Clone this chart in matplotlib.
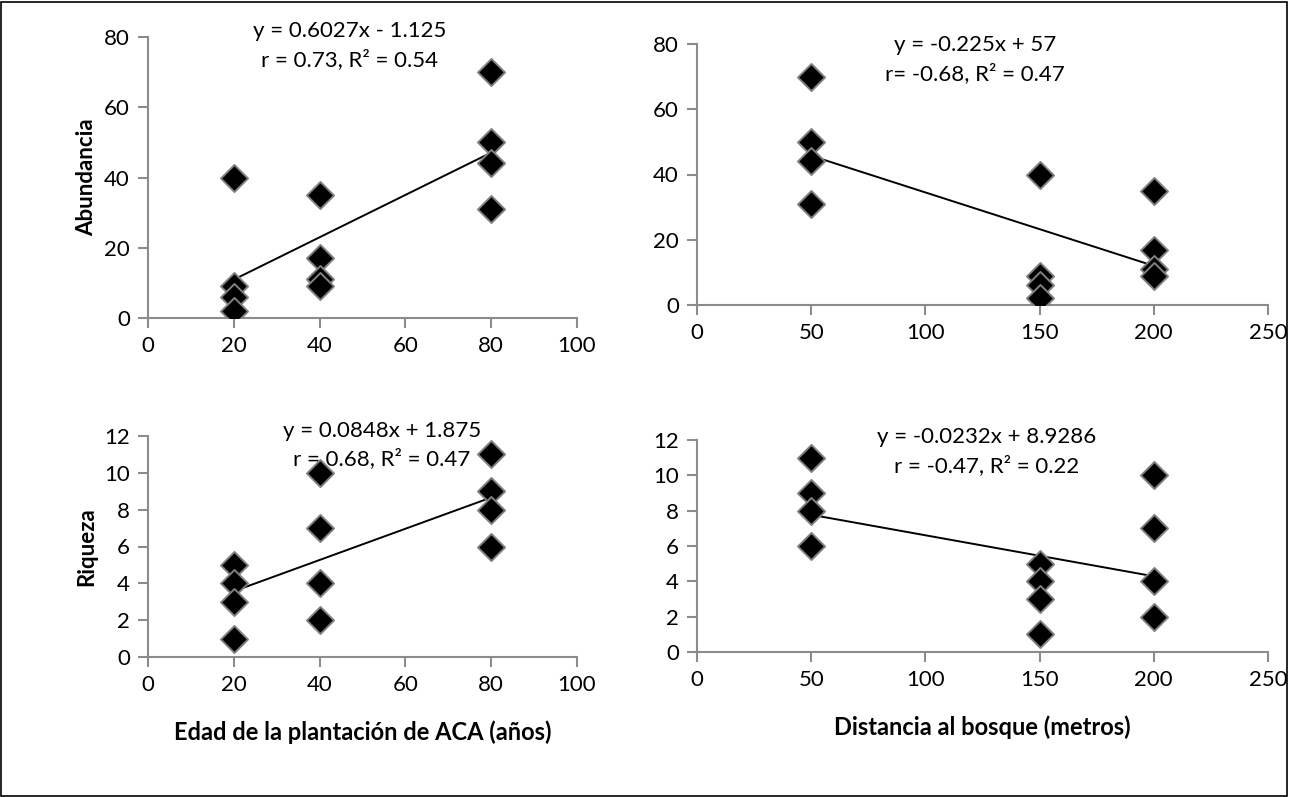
import numpy as np
import matplotlib
matplotlib.use("Agg")
import matplotlib.pyplot as plt
from matplotlib.patches import Rectangle

#--- data ---#
edad = [20, 20, 20, 20, 40, 40, 40, 40, 80, 80, 80, 80]
distancia = [150, 150, 150, 150, 200, 200, 200, 200, 50, 50, 50, 50]
abundancia = [40, 9, 6, 2, 35, 17, 11, 9, 70, 50, 44, 31]
riqueza = [5, 4, 3, 1, 10, 7, 4, 2, 11, 9, 8, 6]

eq_text = {
    "ab_edad": "y = 0.6027x - 1.125\nr = 0.73, R² = 0.54",
    "ab_dist": "y = -0.225x + 57\nr= -0.68, R² = 0.47",
    "ri_edad": "y = 0.0848x + 1.875\nr = 0.68, R² = 0.47",
    "ri_dist": "y = -0.0232x + 8.9286\nr = -0.47, R² = 0.22",
}

plt.rcParams['font.family'] = ['Lato', 'DejaVu Sans']
W, H = 1289, 797
fig = plt.figure(figsize=(W / 100, H / 100), dpi=100)

def px_axes(x0, y0, x1, y1):
    # pixel box (left, top, right, bottom) -> figure axes
    return fig.add_axes([x0 / W, 1 - y1 / H, (x1 - x0) / W, (y1 - y0) / H])

def panel(ax, x, y, xlim, xstep, ylim, ystep, txt, tx, ty):
    ax.scatter(x, y, marker='D', s=190, c='black', edgecolors='#808080', linewidths=1.4, zorder=3)
    m, b = np.polyfit(x, y, 1)
    xs = np.array([min(x), max(x)])
    ax.plot(xs, m * xs + b, color='black', lw=1.4, zorder=2)
    ax.set_xlim(*xlim)
    ax.set_ylim(*ylim)
    ax.set_xticks(np.arange(xlim[0], xlim[1] + 1, xstep))
    ax.set_yticks(np.arange(ylim[0], ylim[1] + 0.1, ystep))
    for s in ['top', 'right']:
        ax.spines[s].set_visible(False)
    for s in ['left', 'bottom']:
        ax.spines[s].set_color('#8c8c8c')
        ax.spines[s].set_linewidth(1.5)
    ax.tick_params(direction='out', length=7, width=1.5, color='#8c8c8c', labelsize=16, pad=6)
    ax.patch.set_alpha(0)
    for sp in ax.spines.values():
        sp.set_clip_on(False)
    ax.text(tx, ty, txt, transform=ax.transAxes, ha='center', va='center', fontsize=16,
            linespacing=1.45, zorder=4)

ax1 = px_axes(148, 37, 577, 318)
panel(ax1, edad, abundancia, (0, 100), 20, (0, 80), 20, eq_text["ab_edad"], 0.47, 0.97)
ax1.set_ylabel("Abundancia", fontsize=16, fontweight='bold')
ax1.yaxis.set_label_coords(-0.118, 0.5)   # about 97 px from the left edge

ax2 = px_axes(697, 44, 1268, 305)
panel(ax2, distancia, abundancia, (0, 250), 50, (0, 80), 20, eq_text["ab_dist"], 0.487, 0.94)

ax3 = px_axes(148, 436, 577, 657)
panel(ax3, edad, riqueza, (0, 100), 20, (0, 12), 2, eq_text["ri_edad"], 0.545, 0.96)
ax3.set_ylabel("Riqueza", fontsize=16, fontweight='bold')
ax3.yaxis.set_label_coords(-0.118, 0.5)
ax3.set_xlabel("Edad de la plantación de ACA (años)", fontsize=17, fontweight='bold', labelpad=18)

ax4 = px_axes(697, 440, 1268, 652)
panel(ax4, distancia, riqueza, (0, 250), 50, (0, 12), 2, eq_text["ri_dist"], 0.508, 0.945)
ax4.set_xlabel("Distancia al bosque (metros)", fontsize=17, fontweight='bold', labelpad=18)

# outer frame around the whole chart
fig.patches.append(Rectangle((1 / W, 1 / H), (W - 3) / W, (H - 3) / H, transform=fig.transFigure,
                             fill=False, edgecolor='black', lw=1.2))

fig.savefig("out.png", dpi=100)
